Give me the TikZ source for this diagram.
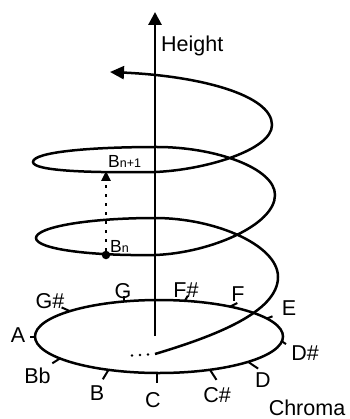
\documentclass[tikz,border=0pt]{standalone}
\usepackage{fontspec}
\setmainfont{Liberation Sans}
\usetikzlibrary{arrows.meta}

\begin{document}
\begin{tikzpicture}[x=1pt,y=-1pt,
  curve/.style={line width=2.5pt},
  axis/.style={line width=2.9pt,-{Triangle[length=13pt,width=13pt]}},
  tick/.style={line width=2pt},
  note/.style={inner sep=0pt,font=\fontsize{21.5}{24}\selectfont},
  point/.style={circle,fill,inner sep=0pt,minimum size=8.5pt}]
\useasboundingbox (0,0) rectangle (349,419);

\coordinate (base) at (155,336);
\coordinate (top) at (155,12);
\draw[axis] (base) -- (top);
\node[note,anchor=base west] (height) at (161,52) {Height};

\draw[curve] (159,336.5) ellipse [x radius=124pt, y radius=36.5pt];

\fill (132,355.5) circle (1.3);
\fill (140,355) circle (1.3);
\fill (148,354.5) circle (1.3);

\draw[curve,-{Triangle[length=14pt,width=13pt]}]
(155,354) .. controls (215,336) and (278,312) .. (278,277)
.. controls (278,245) and (215,218) .. (155,218)
.. controls (89,218) and (36,227) .. (36,238)
.. controls (36,249) and (90,256) .. (155,255)
.. controls (210,253) and (275,225) .. (275,195)
.. controls (275,168) and (215,147) .. (157,147)
.. controls (90,147) and (33,152) .. (33,162)
.. controls (33,171) and (90,173) .. (155,172)
.. controls (205,170) and (272,150) .. (272,125)
.. controls (272,95) and (200,76) .. (110,72);

\node[point] (bn) at (106,255) {};
\coordinate (bnext) at (106,171);
\draw[line width=2.5pt,dash pattern=on 2.5pt off 6.5pt,-{Triangle[length=10pt,width=9pt]}] (bn.north) -- (bnext);
\node[inner sep=0pt,anchor=base west] (lbn) at (110,252)
  {\fontsize{17.5}{20}\selectfont B\fontsize{12.5}{14}\selectfont n};
\node[inner sep=0pt,anchor=base west] (lbnext) at (108,168)
  {\fontsize{17.5}{20}\selectfont B\fontsize{12.5}{14}\selectfont n+1};

\draw[tick] (35,336.5) -- (30,336.5);
\draw[tick] (69.8,311.1) -- (61.6,307.4);
\draw[tick] (124,301.5) -- (124,296);
\draw[tick] (184.8,300.8) -- (187.9,295.7);
\draw[tick] (230.2,306.6) -- (237.3,303);
\draw[tick] (266.9,318.5) -- (272.5,316.3);
\draw[tick] (281.9,341.3) -- (286,344.1);
\draw[tick] (248.2,361.9) -- (258.1,368.6);
\draw[tick] (210,369.8) -- (216.5,379.9);
\draw[tick] (156.8,373) -- (156.8,383);
\draw[tick] (108.5,369.9) -- (102.8,379.3);
\draw[tick] (59.9,358.5) -- (52.3,363.3);

\node[note] (a) at (18,335) {A};
\node[note] (gs) at (50,301) {G\#};
\node[note] (g) at (123,291) {G};
\node[note] (fs) at (186,290) {F\#};
\node[note] (f) at (238,294.5) {F};
\node[note] (e) at (289,308) {E};
\node[note] (ds) at (305,353) {D\#};
\node[note] (d) at (263,380) {D};
\node[note] (cs) at (217,395) {C\#};
\node[note] (c) at (153,400) {C};
\node[note] (b) at (97,393) {B};
\node[note] (bb) at (37.5,375.5) {Bb};
\node[note] (chroma) at (307,408) {Chroma};
\end{tikzpicture}
\end{document}
